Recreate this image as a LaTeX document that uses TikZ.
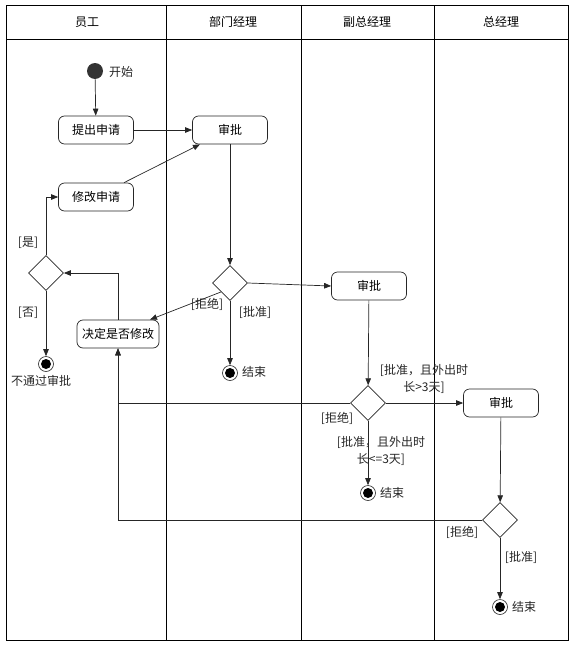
\documentclass[tikz,border=0pt]{standalone}
\usepackage{fontspec}
\setmainfont{Noto Sans CJK SC}
\usetikzlibrary{arrows.meta,shapes.geometric}
\begin{document}
\begin{tikzpicture}[x=1pt,y=-1pt,
  every node/.style={font=\fontsize{12}{17}\selectfont, inner sep=0pt},
  frame/.style={draw=black, line width=0.8pt},
  act/.style={draw=black!85, line width=0.7pt, rounded corners=6pt, minimum width=75pt, minimum height=28pt},
  dec/.style={draw=black!85, line width=0.7pt, diamond, minimum width=35pt, minimum height=35pt, inner sep=0pt},
  startnode/.style={circle, fill=black!80, minimum size=16pt},
  endnode/.style={circle, draw=black!85, line width=0.6pt, minimum size=15pt,
    path picture={\fill[black] (path picture bounding box.center) circle (5pt);}},
  arr/.style={draw=black!85, line width=0.7pt, -{Triangle[length=7pt,width=5.5pt]}},
  lbl/.style={text=black!85}
]
\useasboundingbox (0,0) rectangle (575,645);
% frame and lanes
\draw[frame] (6,5) rectangle (568,640);
\draw[frame] (6,39) -- (568,39);
\draw[frame] (166,5) -- (166,640);
\draw[frame] (301,5) -- (301,640);
\draw[frame] (434,5) -- (434,640);
\node (h1) at (87,22) {员工};
\node (h2) at (233,22) {部门经理};
\node (h3) at (367,22) {副总经理};
\node (h4) at (501,22) {总经理};

% nodes
\node[startnode] (s) at (95,71) {};
\node[lbl] (sl) at (121,72) {开始};
\node[act] (a1) at (96,130) {提出申请};
\node[act] (a2) at (230,130) {审批};
\node[act] (a3) at (96,197) {修改申请};
\node[dec] (d1) at (46,273) {};
\node[act, minimum width=82pt] (a5) at (118,334) {决定是否修改};
\node[endnode] (e1) at (46,364) {};
\node[lbl] (e1l) at (41,381) {不通过审批};
\node[dec] (d2) at (230,283) {};
\node[endnode] (e2) at (230,373) {};
\node[lbl] (e2l) at (254,372) {结束};
\node[act] (a4) at (369,286) {审批};
\node[dec] (d3) at (368,403) {};
\node[act] (a6) at (501,403) {审批};
\node[endnode] (e3) at (368,493) {};
\node[lbl] (e3l) at (392,493) {结束};
\node[dec] (d4) at (500,520) {};
\node[endnode] (e4) at (500,607) {};
\node[lbl] (e4l) at (524,607) {结束};

% connectors
\draw[arr] (s) -- (a1);
\draw[arr] (a1) -- (a2);
\draw[arr] ([xshift=28pt]a3.north) -- ([xshift=-30pt]a2.south);
\draw[arr] (a2) -- (d2);
\draw[arr] (d2.east) -- (a4.west);
\draw[arr] (d2.south west) -- ([xshift=32pt]a5.north);
\draw[arr] (d2) -- (e2);
\draw[arr] (a5.north) |- (d1.east);
\draw[arr] (d1.north) |- (a3.west);
\draw[arr] (d1) -- (e1);
\draw[arr] (a4) -- (d3);
\draw[arr] (d3.east) -- (a6.west);
\draw[arr] (d3.west) -| (a5.south);
\draw[arr] (d3) -- (e3);
\draw[arr] (a6) -- (d4);
\draw[arr] (d4.west) -| (a5.south);
\draw[arr] (d4) -- (e4);

% labels
\node[lbl] (l1) at (28,243) {[是]};
\node[lbl] (l2) at (28,313) {[否]};
\node[lbl] (l3) at (207,304) {[拒绝]};
\node[lbl] (l4) at (255,312) {[批准]};
\node[lbl, align=center] (l5) at (424,379) {[批准，且外出时\\长>3天]};
\node[lbl] (l6) at (337,418) {[拒绝]};
\node[lbl, align=center] (l7) at (381,451) {[批准，且外出时\\长<=3天]};
\node[lbl] (l8) at (462,532) {[拒绝]};
\node[lbl] (l9) at (521,557) {[批准]};
\end{tikzpicture}
\end{document}
